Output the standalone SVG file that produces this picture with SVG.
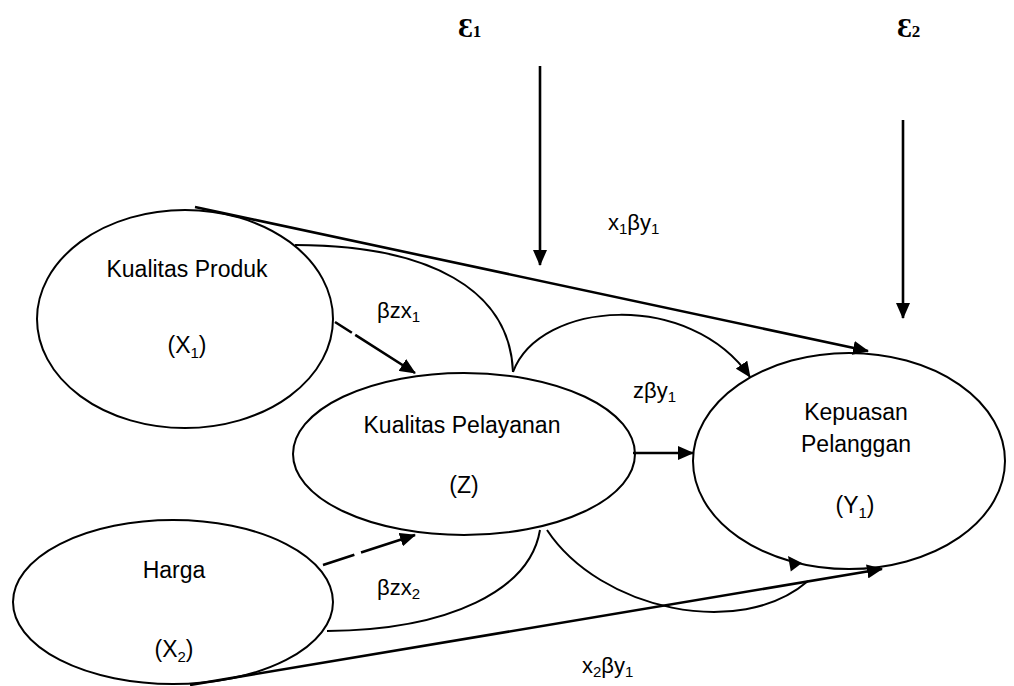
<svg xmlns="http://www.w3.org/2000/svg" width="1014" height="686" viewBox="0 0 1014 686">
<style>
.e{fill:none;stroke:#000;stroke-width:2}
.t{font-family:"Liberation Sans",Arial,sans-serif;font-size:23px;fill:#000;text-anchor:middle}
.l{font-family:"Liberation Sans",Arial,sans-serif;font-size:22px;fill:#000}
.s{font-size:15px}
.eps{font-family:"Liberation Serif","DejaVu Serif",serif;font-size:28px;font-weight:bold;fill:#000}
.c{fill:none;stroke:#000;stroke-width:2}
.k{fill:none;stroke:#000;stroke-width:2.6}
</style>
<defs>
<marker id="a" markerUnits="userSpaceOnUse" markerWidth="16" markerHeight="14" refX="15" refY="7" orient="auto" viewBox="0 0 16 14"><path d="M0,0 L16,7 L0,14 z" fill="#000"/></marker>
</defs>
<g id="connectors">
<line class="k" x1="540" y1="66" x2="540" y2="265" marker-end="url(#a)"/>
<line class="k" x1="903" y1="120" x2="903" y2="318" marker-end="url(#a)"/>
<line class="k" x1="195" y1="207" x2="868" y2="351" marker-end="url(#a)"/>
<line class="k" x1="190" y1="685" x2="882" y2="569" marker-end="url(#a)"/>
<line class="k" x1="335" y1="322" x2="415" y2="373" stroke-dasharray="20 4 200" marker-end="url(#a)"/>
<line class="k" x1="323" y1="565" x2="415" y2="535" stroke-dasharray="33 7 200" marker-end="url(#a)"/>
<line class="k" x1="633" y1="453" x2="693" y2="453" marker-end="url(#a)"/>
<path class="c" d="M295,245 C430,245 510,290 513,372"/>
<path class="c" d="M513,372 C540,300 690,290 750,377" marker-end="url(#a)"/>
<path class="c" d="M327,631 C450,630 530,590 540,530"/>
<path class="c" d="M547,530 C600,610 740,640 808,581"/>
<polygon points="788,556 802,563 790.8,571.4" fill="#000"/>
</g>
<g id="labels">
<text class="eps" x="458" y="37">Ɛ<tspan font-size="17">1</tspan></text>
<text class="eps" x="897" y="37">Ɛ<tspan font-size="17">2</tspan></text>
<text class="l" x="608" y="230">x<tspan class="s" dy="4">1</tspan><tspan dy="-4">βy</tspan><tspan class="s" dy="4">1</tspan></text>
<text class="l" x="377" y="318">βzx<tspan class="s" dy="4">1</tspan></text>
<text class="l" x="633" y="398">zβy<tspan class="s" dy="4">1</tspan></text>
<text class="l" x="377" y="595">βzx<tspan class="s" dy="4">2</tspan></text>
<text class="l" x="582" y="673">x<tspan class="s" dy="4">2</tspan><tspan dy="-4">βy</tspan><tspan class="s" dy="4">1</tspan></text>
</g>
<g id="X1">
<ellipse class="e" cx="185" cy="319" rx="148" ry="109"/>
<text class="t" x="187" y="277">Kualitas Produk</text>
<text class="t" x="187" y="353">(X<tspan class="s" dy="5">1</tspan><tspan dy="-5">)</tspan></text>
</g>
<g id="Z">
<ellipse class="e" cx="464" cy="454" rx="171" ry="81"/>
<text class="t" x="462" y="433">Kualitas Pelayanan</text>
<text class="t" x="464" y="493">(Z)</text>
</g>
<g id="Y1">
<ellipse class="e" cx="849" cy="461" rx="156" ry="108"/>
<text class="t" x="856" y="420">Kepuasan</text>
<text class="t" x="856" y="452">Pelanggan</text>
<text class="t" x="855" y="513">(Y<tspan class="s" dy="5">1</tspan><tspan dy="-5">)</tspan></text>
</g>
<g id="X2">
<ellipse class="e" cx="173" cy="602" rx="160" ry="82"/>
<text class="t" x="174" y="578">Harga</text>
<text class="t" x="174" y="657">(X<tspan class="s" dy="5">2</tspan><tspan dy="-5">)</tspan></text>
</g>
</svg>
